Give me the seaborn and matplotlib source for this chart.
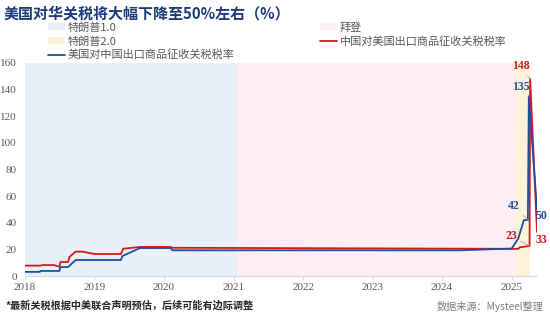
import numpy as np
import pandas as pd
import matplotlib
matplotlib.use("Agg")
import matplotlib.pyplot as plt
import matplotlib.dates as mdates
from matplotlib.patches import Patch
from matplotlib.lines import Line2D
import seaborn as sns

# ---------------- data ----------------
title = "美国对华关税将大幅下降至50%左右（%）"
us_label = "美国对中国出口商品征收关税税率"
cn_label = "中国对美国出口商品征收关税税率"
period_labels = ["特朗普1.0", "拜登", "特朗普2.0"]
period_starts = ["2018-01-01", "2021-01-20", "2025-01-20"]
period_ends = ["2021-01-20", "2025-01-20", "2025-04-06"]

us_dates = ["2018-01-01", "2018-03-20", "2018-03-23", "2018-07-01", "2018-07-06",
            "2018-08-15", "2018-09-24", "2019-05-20", "2019-05-28", "2019-08-28",
            "2020-02-05", "2020-02-14", "2024-04-01", "2025-01-01", "2025-02-04",
            "2025-03-06", "2025-03-27", "2025-04-01", "2025-05-14"]
us_rate = [3.1, 3.1, 3.8, 3.8, 6.7,
           6.7, 12.0, 12.0, 15.0, 21.0,
           21.0, 19.3, 19.3, 20.6, 28.0,
           42.0, 42.0, 135.0, 50.0]

cn_dates = ["2018-01-01", "2018-03-25", "2018-04-02", "2018-06-01", "2018-07-01",
            "2018-07-06", "2018-08-15", "2018-08-23", "2018-09-24", "2018-10-30",
            "2019-01-01", "2019-05-20", "2019-06-01", "2019-08-28", "2020-02-05",
            "2020-02-14", "2025-02-05", "2025-02-12", "2025-04-05", "2025-04-08",
            "2025-05-14"]
cn_rate = [7.8, 7.8, 8.2, 8.2, 7.0,
           10.5, 10.5, 14.4, 18.3, 18.3,
           16.5, 16.5, 20.5, 21.8, 21.8,
           21.2, 20.4, 21.5, 22.6, 148.0,
           33.0]

# labelled values: (date, value, text, text offset in points)
labels_us = [("2025-04-01", 135.0, "135", (-6, 7)), ("2025-03-27", 42.0, "42", (-10, 10)),
             ("2025-05-14", 50.0, "50", (3, -5))]
labels_cn = [("2025-04-08", 148.0, "148", (-7, 9)), ("2025-04-05", 22.6, "23", (-13, 7)),
             ("2025-05-14", 33.0, "33", (3, -6))]

footnote = "*最新关税根据中美联合声明预估，后续可能有边际调整"
source = "数据来源：Mysteel整理"
year_ticks = [2018, 2019, 2020, 2021, 2022, 2023, 2024, 2025]
y_ticks = [0, 20, 40, 60, 80, 100, 120, 140, 160]

# ---------------- style ----------------
sns.set_theme(style="white")
plt.rcParams['font.family'] = ['Noto Sans CJK SC', 'DejaVu Sans']

BLUE = "#1f4e9c"
RED = "#d0191e"
SPAN_COLORS = ["#e9f0fa", "#fdeff3", "#fdf3da"]
GREY = "#595959"

df_us = pd.DataFrame({"date": pd.to_datetime(us_dates), "rate": us_rate})
df_cn = pd.DataFrame({"date": pd.to_datetime(cn_dates), "rate": cn_rate})

fig = plt.figure(figsize=(5.5, 3.17), dpi=100)
ax = fig.add_axes([25/550, 41/317, 512/550, 213/317])

for s, e, c in zip(period_starts, period_ends, SPAN_COLORS):
    ax.axvspan(pd.Timestamp(s), pd.Timestamp(e), color=c, lw=0, zorder=0)

sns.lineplot(data=df_cn, x="date", y="rate", color=RED, lw=1.3, ax=ax, zorder=3)
sns.lineplot(data=df_us, x="date", y="rate", color=BLUE, lw=1.3, ax=ax, zorder=4)

ax.set_xlim(pd.Timestamp(us_dates[0]), pd.Timestamp(us_dates[-1]))
ax.set_ylim(0, 160)
ax.set_yticks(y_ticks)
ax.set_xticks([pd.Timestamp(f"{y}-01-01") for y in year_ticks])
ax.set_xticklabels([str(y) for y in year_ticks])
ax.set_xlabel("")
ax.set_ylabel("")
for sp in ["top", "right", "left"]:
    ax.spines[sp].set_visible(False)
ax.spines["bottom"].set_color("#d9d9d9")
ax.spines["bottom"].set_linewidth(0.8)
ax.tick_params(axis="x", length=3, width=0.8, color="#d9d9d9", pad=2,
               labelsize=8, labelcolor=GREY, bottom=True)
ax.tick_params(axis="y", length=0, pad=6, labelsize=8, labelcolor=GREY)
for t in ax.get_xticklabels() + ax.get_yticklabels():
    t.set_fontfamily("Liberation Serif")

def annotate(date, val, txt, off, color):
    leader = dict(arrowstyle="-", color="#a6a6a6", lw=0.6, shrinkA=0, shrinkB=0) \
        if off[0] < 0 else None
    ax.annotate(txt, xy=(pd.Timestamp(date), val), xytext=off, textcoords="offset points",
                ha="center", va="center", color=color, fontsize=8.5, fontweight="bold",
                family="Liberation Serif", arrowprops=leader, annotation_clip=False,
                zorder=6)

for d, v, t, o in labels_us:
    annotate(d, v, t, o, BLUE)
for d, v, t, o in labels_cn:
    annotate(d, v, t, o, RED)

# legends
h1 = [Patch(facecolor=SPAN_COLORS[0], edgecolor="none", label=period_labels[0]),
      Patch(facecolor=SPAN_COLORS[2], edgecolor="none", label=period_labels[2]),
      Line2D([0], [0], color=BLUE, lw=1.3, label=us_label)]
h2 = [Patch(facecolor=SPAN_COLORS[1], edgecolor="none", label=period_labels[1]),
      Line2D([0], [0], color=RED, lw=1.3, label=cn_label)]
common = dict(frameon=False, fontsize=8, labelcolor=GREY, borderpad=0, borderaxespad=0,
              handlelength=1.5, handleheight=0.6, handletextpad=0.3, labelspacing=0.3,
              loc="upper left")
leg1 = fig.legend(handles=h1, bbox_to_anchor=(48/550, 1-22/317), **common)
leg2 = fig.legend(handles=h2, bbox_to_anchor=(320/550, 1-22/317), **common)

fig.text(4/550, 1-14/317, title, ha="left", va="center", fontsize=10.8,
         fontweight="bold", color="#1b3a7a")
fig.text(5/550, 1-306/317, footnote, ha="left", va="center", fontsize=7.3,
         fontweight="bold", color="#262626", style="italic")
fig.text(543/550, 1-306/317, source, ha="right", va="center", fontsize=7.3,
         color="#7f7f7f")

fig.savefig("out.png", dpi=100)
